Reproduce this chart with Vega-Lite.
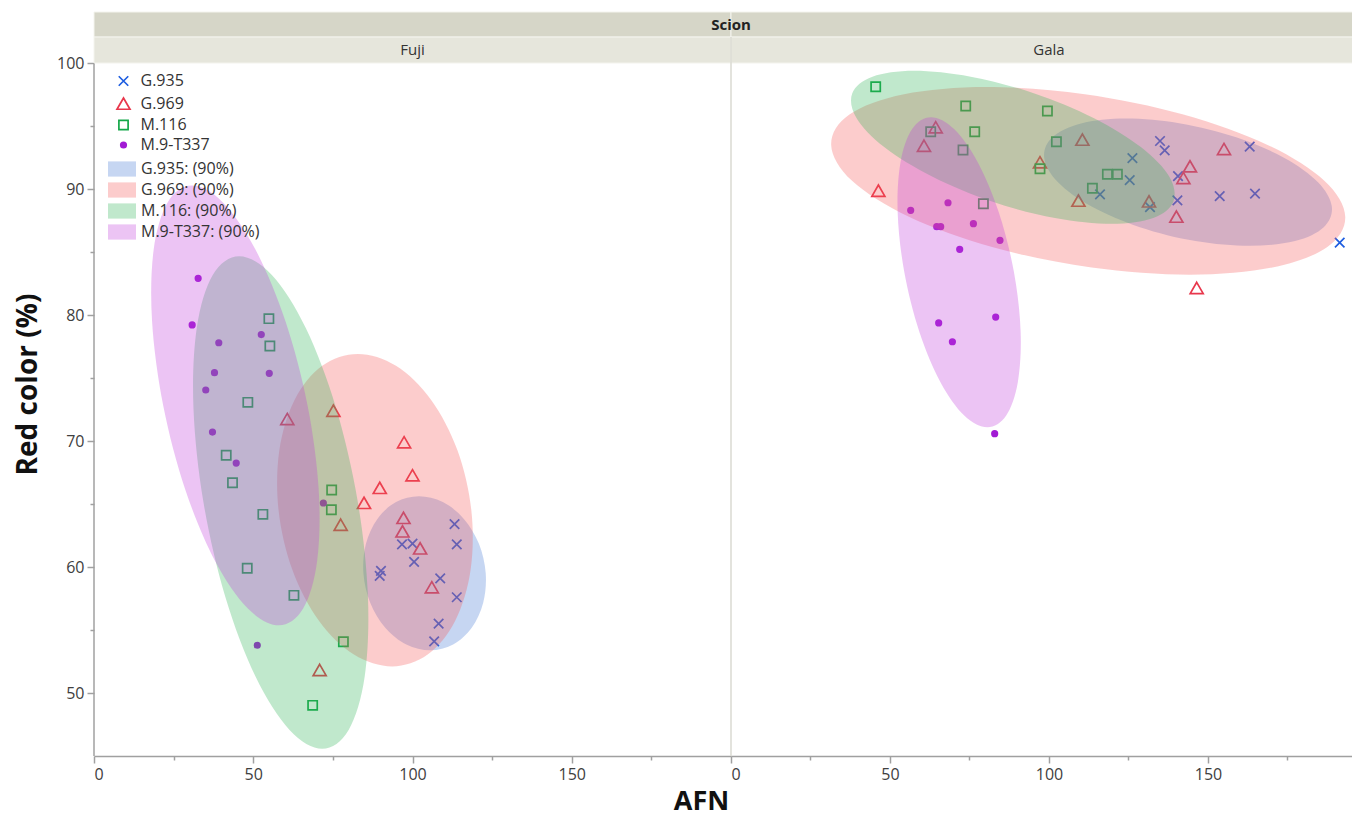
{
  "$schema": "https://vega.github.io/schema/vega-lite/v6.json",
  "padding": {"left": 14, "top": 11, "right": 0, "bottom": 3},
  "background": "white",
  "spacing": 0,
  "bounds": "flush",
  "resolve": {"scale": {"x": "independent", "y": "independent"}},
  "config": {
    "view": {"stroke": null},
    "font": "Open Sans",
    "axis": {"labelFont": "Open Sans", "labelFontSize": 16, "labelColor": "#404040", "tickColor": "#a0a0a0", "domainColor": "#a0a0a0", "domainWidth": 1.5, "tickWidth": 1.5, "labelPadding": 3, "titleFont": "Open Sans", "titleFontWeight": "bold", "titleFontSize": 28, "titleColor": "#111111", "grid": false},
    "legend": {"labelFont": "Open Sans", "labelFontSize": 16, "labelColor": "#333333"}
  },
  "datasets": {
    "points": [
      {"Scion":"Fuji","Rootstock":"G.935","AFN":113.2,"Red":63.4},
      {"Scion":"Fuji","Rootstock":"G.935","AFN":113.9,"Red":61.8},
      {"Scion":"Fuji","Rootstock":"G.935","AFN":96.7,"Red":61.8},
      {"Scion":"Fuji","Rootstock":"G.935","AFN":100.0,"Red":61.85},
      {"Scion":"Fuji","Rootstock":"G.935","AFN":100.5,"Red":60.4},
      {"Scion":"Fuji","Rootstock":"G.935","AFN":90.1,"Red":59.7},
      {"Scion":"Fuji","Rootstock":"G.935","AFN":89.7,"Red":59.3},
      {"Scion":"Fuji","Rootstock":"G.935","AFN":108.7,"Red":59.1},
      {"Scion":"Fuji","Rootstock":"G.935","AFN":113.9,"Red":57.6},
      {"Scion":"Fuji","Rootstock":"G.935","AFN":108.2,"Red":55.5},
      {"Scion":"Fuji","Rootstock":"G.935","AFN":106.8,"Red":54.1},
      {"Scion":"Fuji","Rootstock":"G.969","AFN":60.69,"Red":71.72},
      {"Scion":"Fuji","Rootstock":"G.969","AFN":75.16,"Red":72.38},
      {"Scion":"Fuji","Rootstock":"G.969","AFN":97.36,"Red":69.87},
      {"Scion":"Fuji","Rootstock":"G.969","AFN":100.0,"Red":67.25},
      {"Scion":"Fuji","Rootstock":"G.969","AFN":89.72,"Red":66.25},
      {"Scion":"Fuji","Rootstock":"G.969","AFN":84.78,"Red":65.06},
      {"Scion":"Fuji","Rootstock":"G.969","AFN":77.45,"Red":63.33},
      {"Scion":"Fuji","Rootstock":"G.969","AFN":97.17,"Red":63.87},
      {"Scion":"Fuji","Rootstock":"G.969","AFN":96.86,"Red":62.8},
      {"Scion":"Fuji","Rootstock":"G.969","AFN":102.39,"Red":61.45},
      {"Scion":"Fuji","Rootstock":"G.969","AFN":106.07,"Red":58.36},
      {"Scion":"Fuji","Rootstock":"G.969","AFN":70.85,"Red":51.8},
      {"Scion":"Fuji","Rootstock":"M.116","AFN":54.91,"Red":79.71},
      {"Scion":"Fuji","Rootstock":"M.116","AFN":55.22,"Red":77.54},
      {"Scion":"Fuji","Rootstock":"M.116","AFN":48.30,"Red":73.07},
      {"Scion":"Fuji","Rootstock":"M.116","AFN":41.51,"Red":68.87},
      {"Scion":"Fuji","Rootstock":"M.116","AFN":43.49,"Red":66.69},
      {"Scion":"Fuji","Rootstock":"M.116","AFN":53.02,"Red":64.18},
      {"Scion":"Fuji","Rootstock":"M.116","AFN":74.62,"Red":66.11},
      {"Scion":"Fuji","Rootstock":"M.116","AFN":74.53,"Red":64.55},
      {"Scion":"Fuji","Rootstock":"M.116","AFN":48.11,"Red":59.90},
      {"Scion":"Fuji","Rootstock":"M.116","AFN":62.77,"Red":57.75},
      {"Scion":"Fuji","Rootstock":"M.116","AFN":78.30,"Red":54.07},
      {"Scion":"Fuji","Rootstock":"M.116","AFN":68.65,"Red":49.02},
      {"Scion":"Fuji","Rootstock":"M.9-T337","AFN":32.70,"Red":82.91},
      {"Scion":"Fuji","Rootstock":"M.9-T337","AFN":30.82,"Red":79.21},
      {"Scion":"Fuji","Rootstock":"M.9-T337","AFN":39.18,"Red":77.80},
      {"Scion":"Fuji","Rootstock":"M.9-T337","AFN":52.52,"Red":78.45},
      {"Scion":"Fuji","Rootstock":"M.9-T337","AFN":37.83,"Red":75.42},
      {"Scion":"Fuji","Rootstock":"M.9-T337","AFN":55.03,"Red":75.37},
      {"Scion":"Fuji","Rootstock":"M.9-T337","AFN":35.09,"Red":74.05},
      {"Scion":"Fuji","Rootstock":"M.9-T337","AFN":37.20,"Red":70.71},
      {"Scion":"Fuji","Rootstock":"M.9-T337","AFN":44.65,"Red":68.25},
      {"Scion":"Fuji","Rootstock":"M.9-T337","AFN":72.01,"Red":65.08},
      {"Scion":"Fuji","Rootstock":"M.9-T337","AFN":51.26,"Red":53.79},
      {"Scion":"Gala","Rootstock":"G.935","AFN":134.91,"Red":93.81},
      {"Scion":"Gala","Rootstock":"G.935","AFN":136.38,"Red":93.07},
      {"Scion":"Gala","Rootstock":"G.935","AFN":126.23,"Red":92.46},
      {"Scion":"Gala","Rootstock":"G.935","AFN":163.11,"Red":93.36},
      {"Scion":"Gala","Rootstock":"G.935","AFN":125.38,"Red":90.71},
      {"Scion":"Gala","Rootstock":"G.935","AFN":140.57,"Red":91.03},
      {"Scion":"Gala","Rootstock":"G.935","AFN":116.04,"Red":89.58},
      {"Scion":"Gala","Rootstock":"G.935","AFN":131.76,"Red":88.57},
      {"Scion":"Gala","Rootstock":"G.935","AFN":140.38,"Red":89.10},
      {"Scion":"Gala","Rootstock":"G.935","AFN":153.68,"Red":89.44},
      {"Scion":"Gala","Rootstock":"G.935","AFN":164.78,"Red":89.63},
      {"Scion":"Gala","Rootstock":"G.935","AFN":191.42,"Red":85.74},
      {"Scion":"Gala","Rootstock":"G.969","AFN":64.37,"Red":94.87},
      {"Scion":"Gala","Rootstock":"G.969","AFN":60.69,"Red":93.41},
      {"Scion":"Gala","Rootstock":"G.969","AFN":46.35,"Red":89.84},
      {"Scion":"Gala","Rootstock":"G.969","AFN":110.50,"Red":93.89},
      {"Scion":"Gala","Rootstock":"G.969","AFN":97.17,"Red":92.09},
      {"Scion":"Gala","Rootstock":"G.969","AFN":109.25,"Red":89.05},
      {"Scion":"Gala","Rootstock":"G.969","AFN":155.03,"Red":93.15},
      {"Scion":"Gala","Rootstock":"G.969","AFN":144.34,"Red":91.77},
      {"Scion":"Gala","Rootstock":"G.969","AFN":142.26,"Red":90.85},
      {"Scion":"Gala","Rootstock":"G.969","AFN":131.45,"Red":88.99},
      {"Scion":"Gala","Rootstock":"G.969","AFN":140.06,"Red":87.78},
      {"Scion":"Gala","Rootstock":"G.969","AFN":146.45,"Red":82.12},
      {"Scion":"Gala","Rootstock":"M.116","AFN":45.50,"Red":98.12},
      {"Scion":"Gala","Rootstock":"M.116","AFN":73.81,"Red":96.59},
      {"Scion":"Gala","Rootstock":"M.116","AFN":99.50,"Red":96.19},
      {"Scion":"Gala","Rootstock":"M.116","AFN":76.64,"Red":94.55},
      {"Scion":"Gala","Rootstock":"M.116","AFN":62.80,"Red":94.55},
      {"Scion":"Gala","Rootstock":"M.116","AFN":72.96,"Red":93.10},
      {"Scion":"Gala","Rootstock":"M.116","AFN":102.33,"Red":93.75},
      {"Scion":"Gala","Rootstock":"M.116","AFN":97.17,"Red":91.61},
      {"Scion":"Gala","Rootstock":"M.116","AFN":118.36,"Red":91.17},
      {"Scion":"Gala","Rootstock":"M.116","AFN":121.51,"Red":91.17},
      {"Scion":"Gala","Rootstock":"M.116","AFN":113.65,"Red":90.06},
      {"Scion":"Gala","Rootstock":"M.116","AFN":79.37,"Red":88.83},
      {"Scion":"Gala","Rootstock":"M.9-T337","AFN":56.51,"Red":88.31},
      {"Scion":"Gala","Rootstock":"M.9-T337","AFN":68.24,"Red":88.91},
      {"Scion":"Gala","Rootstock":"M.9-T337","AFN":64.69,"Red":87.01},
      {"Scion":"Gala","Rootstock":"M.9-T337","AFN":65.94,"Red":87.01},
      {"Scion":"Gala","Rootstock":"M.9-T337","AFN":76.23,"Red":87.25},
      {"Scion":"Gala","Rootstock":"M.9-T337","AFN":84.59,"Red":85.93},
      {"Scion":"Gala","Rootstock":"M.9-T337","AFN":71.92,"Red":85.21},
      {"Scion":"Gala","Rootstock":"M.9-T337","AFN":83.24,"Red":79.84},
      {"Scion":"Gala","Rootstock":"M.9-T337","AFN":65.31,"Red":79.37},
      {"Scion":"Gala","Rootstock":"M.9-T337","AFN":69.62,"Red":77.88},
      {"Scion":"Gala","Rootstock":"M.9-T337","AFN":82.92,"Red":70.58}
    ],
    "ellipses": [
      {"Scion":"Fuji","Ellipse":"G.935: (90%)","i":0,"AFN":122.99,"Red":59.50},
      {"Scion":"Fuji","Ellipse":"G.935: (90%)","i":1,"AFN":120.86,"Red":61.84},
      {"Scion":"Fuji","Ellipse":"G.935: (90%)","i":2,"AFN":116.13,"Red":63.82},
      {"Scion":"Fuji","Ellipse":"G.935: (90%)","i":3,"AFN":109.52,"Red":65.15},
      {"Scion":"Fuji","Ellipse":"G.935: (90%)","i":4,"AFN":102.04,"Red":65.61},
      {"Scion":"Fuji","Ellipse":"G.935: (90%)","i":5,"AFN":94.83,"Red":65.15},
      {"Scion":"Fuji","Ellipse":"G.935: (90%)","i":6,"AFN":88.98,"Red":63.82},
      {"Scion":"Fuji","Ellipse":"G.935: (90%)","i":7,"AFN":85.38,"Red":61.84},
      {"Scion":"Fuji","Ellipse":"G.935: (90%)","i":8,"AFN":84.59,"Red":59.50},
      {"Scion":"Fuji","Ellipse":"G.935: (90%)","i":9,"AFN":86.72,"Red":57.16},
      {"Scion":"Fuji","Ellipse":"G.935: (90%)","i":10,"AFN":91.45,"Red":55.18},
      {"Scion":"Fuji","Ellipse":"G.935: (90%)","i":11,"AFN":98.06,"Red":53.85},
      {"Scion":"Fuji","Ellipse":"G.935: (90%)","i":12,"AFN":105.54,"Red":53.39},
      {"Scion":"Fuji","Ellipse":"G.935: (90%)","i":13,"AFN":112.75,"Red":53.85},
      {"Scion":"Fuji","Ellipse":"G.935: (90%)","i":14,"AFN":118.60,"Red":55.18},
      {"Scion":"Fuji","Ellipse":"G.935: (90%)","i":15,"AFN":122.20,"Red":57.16},
      {"Scion":"Fuji","Ellipse":"G.969: (90%)","i":0,"AFN":118.47,"Red":64.51},
      {"Scion":"Fuji","Ellipse":"G.969: (90%)","i":1,"AFN":114.11,"Red":69.26},
      {"Scion":"Fuji","Ellipse":"G.969: (90%)","i":2,"AFN":105.80,"Red":73.28},
      {"Scion":"Fuji","Ellipse":"G.969: (90%)","i":3,"AFN":94.82,"Red":75.97},
      {"Scion":"Fuji","Ellipse":"G.969: (90%)","i":4,"AFN":82.83,"Red":76.91},
      {"Scion":"Fuji","Ellipse":"G.969: (90%)","i":5,"AFN":71.66,"Red":75.97},
      {"Scion":"Fuji","Ellipse":"G.969: (90%)","i":6,"AFN":63.01,"Red":73.28},
      {"Scion":"Fuji","Ellipse":"G.969: (90%)","i":7,"AFN":58.19,"Red":69.26},
      {"Scion":"Fuji","Ellipse":"G.969: (90%)","i":8,"AFN":57.95,"Red":64.51},
      {"Scion":"Fuji","Ellipse":"G.969: (90%)","i":9,"AFN":62.31,"Red":59.77},
      {"Scion":"Fuji","Ellipse":"G.969: (90%)","i":10,"AFN":70.62,"Red":55.74},
      {"Scion":"Fuji","Ellipse":"G.969: (90%)","i":11,"AFN":81.60,"Red":53.05},
      {"Scion":"Fuji","Ellipse":"G.969: (90%)","i":12,"AFN":93.59,"Red":52.11},
      {"Scion":"Fuji","Ellipse":"G.969: (90%)","i":13,"AFN":104.76,"Red":53.05},
      {"Scion":"Fuji","Ellipse":"G.969: (90%)","i":14,"AFN":113.41,"Red":55.74},
      {"Scion":"Fuji","Ellipse":"G.969: (90%)","i":15,"AFN":118.23,"Red":59.77},
      {"Scion":"Fuji","Ellipse":"M.116: (90%)","i":0,"AFN":82.86,"Red":65.12},
      {"Scion":"Fuji","Ellipse":"M.116: (90%)","i":1,"AFN":76.02,"Red":72.60},
      {"Scion":"Fuji","Ellipse":"M.116: (90%)","i":2,"AFN":66.53,"Red":78.94},
      {"Scion":"Fuji","Ellipse":"M.116: (90%)","i":3,"AFN":55.84,"Red":83.17},
      {"Scion":"Fuji","Ellipse":"M.116: (90%)","i":4,"AFN":45.57,"Red":84.66},
      {"Scion":"Fuji","Ellipse":"M.116: (90%)","i":5,"AFN":37.29,"Red":83.17},
      {"Scion":"Fuji","Ellipse":"M.116: (90%)","i":6,"AFN":32.25,"Red":78.94},
      {"Scion":"Fuji","Ellipse":"M.116: (90%)","i":7,"AFN":31.23,"Red":72.60},
      {"Scion":"Fuji","Ellipse":"M.116: (90%)","i":8,"AFN":34.38,"Red":65.12},
      {"Scion":"Fuji","Ellipse":"M.116: (90%)","i":9,"AFN":41.22,"Red":57.64},
      {"Scion":"Fuji","Ellipse":"M.116: (90%)","i":10,"AFN":50.71,"Red":51.30},
      {"Scion":"Fuji","Ellipse":"M.116: (90%)","i":11,"AFN":61.40,"Red":47.07},
      {"Scion":"Fuji","Ellipse":"M.116: (90%)","i":12,"AFN":71.67,"Red":45.58},
      {"Scion":"Fuji","Ellipse":"M.116: (90%)","i":13,"AFN":79.95,"Red":47.07},
      {"Scion":"Fuji","Ellipse":"M.116: (90%)","i":14,"AFN":84.99,"Red":51.30},
      {"Scion":"Fuji","Ellipse":"M.116: (90%)","i":15,"AFN":86.01,"Red":57.64},
      {"Scion":"Fuji","Ellipse":"M.9-T337: (90%)","i":0,"AFN":67.05,"Red":72.82},
      {"Scion":"Fuji","Ellipse":"M.9-T337: (90%)","i":1,"AFN":60.11,"Red":79.50},
      {"Scion":"Fuji","Ellipse":"M.9-T337: (90%)","i":2,"AFN":50.77,"Red":85.16},
      {"Scion":"Fuji","Ellipse":"M.9-T337: (90%)","i":3,"AFN":40.46,"Red":88.94},
      {"Scion":"Fuji","Ellipse":"M.9-T337: (90%)","i":4,"AFN":30.75,"Red":90.27},
      {"Scion":"Fuji","Ellipse":"M.9-T337: (90%)","i":5,"AFN":23.12,"Red":88.94},
      {"Scion":"Fuji","Ellipse":"M.9-T337: (90%)","i":6,"AFN":18.72,"Red":85.16},
      {"Scion":"Fuji","Ellipse":"M.9-T337: (90%)","i":7,"AFN":18.23,"Red":79.50},
      {"Scion":"Fuji","Ellipse":"M.9-T337: (90%)","i":8,"AFN":21.73,"Red":72.82},
      {"Scion":"Fuji","Ellipse":"M.9-T337: (90%)","i":9,"AFN":28.67,"Red":66.14},
      {"Scion":"Fuji","Ellipse":"M.9-T337: (90%)","i":10,"AFN":38.01,"Red":60.48},
      {"Scion":"Fuji","Ellipse":"M.9-T337: (90%)","i":11,"AFN":48.32,"Red":56.70},
      {"Scion":"Fuji","Ellipse":"M.9-T337: (90%)","i":12,"AFN":58.03,"Red":55.37},
      {"Scion":"Fuji","Ellipse":"M.9-T337: (90%)","i":13,"AFN":65.66,"Red":56.70},
      {"Scion":"Fuji","Ellipse":"M.9-T337: (90%)","i":14,"AFN":70.06,"Red":60.48},
      {"Scion":"Fuji","Ellipse":"M.9-T337: (90%)","i":15,"AFN":70.55,"Red":66.14},
      {"Scion":"Gala","Ellipse":"G.935: (90%)","i":0,"AFN":184.60,"Red":90.54},
      {"Scion":"Gala","Ellipse":"G.935: (90%)","i":1,"AFN":174.03,"Red":92.47},
      {"Scion":"Gala","Ellipse":"G.935: (90%)","i":2,"AFN":158.85,"Red":94.11},
      {"Scion":"Gala","Ellipse":"G.935: (90%)","i":3,"AFN":141.37,"Red":95.21},
      {"Scion":"Gala","Ellipse":"G.935: (90%)","i":4,"AFN":124.24,"Red":95.59},
      {"Scion":"Gala","Ellipse":"G.935: (90%)","i":5,"AFN":110.08,"Red":95.21},
      {"Scion":"Gala","Ellipse":"G.935: (90%)","i":6,"AFN":101.04,"Red":94.11},
      {"Scion":"Gala","Ellipse":"G.935: (90%)","i":7,"AFN":98.50,"Red":92.47},
      {"Scion":"Gala","Ellipse":"G.935: (90%)","i":8,"AFN":102.84,"Red":90.54},
      {"Scion":"Gala","Ellipse":"G.935: (90%)","i":9,"AFN":113.41,"Red":88.61},
      {"Scion":"Gala","Ellipse":"G.935: (90%)","i":10,"AFN":128.59,"Red":86.97},
      {"Scion":"Gala","Ellipse":"G.935: (90%)","i":11,"AFN":146.07,"Red":85.87},
      {"Scion":"Gala","Ellipse":"G.935: (90%)","i":12,"AFN":163.20,"Red":85.49},
      {"Scion":"Gala","Ellipse":"G.935: (90%)","i":13,"AFN":177.36,"Red":85.87},
      {"Scion":"Gala","Ellipse":"G.935: (90%)","i":14,"AFN":186.40,"Red":86.97},
      {"Scion":"Gala","Ellipse":"G.935: (90%)","i":15,"AFN":188.94,"Red":88.61},
      {"Scion":"Gala","Ellipse":"G.969: (90%)","i":0,"AFN":186.59,"Red":90.65},
      {"Scion":"Gala","Ellipse":"G.969: (90%)","i":1,"AFN":168.72,"Red":93.50},
      {"Scion":"Gala","Ellipse":"G.969: (90%)","i":2,"AFN":142.26,"Red":95.92},
      {"Scion":"Gala","Ellipse":"G.969: (90%)","i":3,"AFN":111.25,"Red":97.53},
      {"Scion":"Gala","Ellipse":"G.969: (90%)","i":4,"AFN":80.40,"Red":98.10},
      {"Scion":"Gala","Ellipse":"G.969: (90%)","i":5,"AFN":54.41,"Red":97.53},
      {"Scion":"Gala","Ellipse":"G.969: (90%)","i":6,"AFN":37.24,"Red":95.92},
      {"Scion":"Gala","Ellipse":"G.969: (90%)","i":7,"AFN":31.50,"Red":93.50},
      {"Scion":"Gala","Ellipse":"G.969: (90%)","i":8,"AFN":38.07,"Red":90.65},
      {"Scion":"Gala","Ellipse":"G.969: (90%)","i":9,"AFN":55.94,"Red":87.80},
      {"Scion":"Gala","Ellipse":"G.969: (90%)","i":10,"AFN":82.40,"Red":85.38},
      {"Scion":"Gala","Ellipse":"G.969: (90%)","i":11,"AFN":113.41,"Red":83.77},
      {"Scion":"Gala","Ellipse":"G.969: (90%)","i":12,"AFN":144.26,"Red":83.20},
      {"Scion":"Gala","Ellipse":"G.969: (90%)","i":13,"AFN":170.25,"Red":83.77},
      {"Scion":"Gala","Ellipse":"G.969: (90%)","i":14,"AFN":187.42,"Red":85.38},
      {"Scion":"Gala","Ellipse":"G.969: (90%)","i":15,"AFN":193.16,"Red":87.80},
      {"Scion":"Gala","Ellipse":"M.116: (90%)","i":0,"AFN":128.98,"Red":93.31},
      {"Scion":"Gala","Ellipse":"M.116: (90%)","i":1,"AFN":114.02,"Red":95.64},
      {"Scion":"Gala","Ellipse":"M.116: (90%)","i":2,"AFN":95.20,"Red":97.61},
      {"Scion":"Gala","Ellipse":"M.116: (90%)","i":3,"AFN":75.38,"Red":98.92},
      {"Scion":"Gala","Ellipse":"M.116: (90%)","i":4,"AFN":57.57,"Red":99.39},
      {"Scion":"Gala","Ellipse":"M.116: (90%)","i":5,"AFN":44.49,"Red":98.92},
      {"Scion":"Gala","Ellipse":"M.116: (90%)","i":6,"AFN":38.14,"Red":97.61},
      {"Scion":"Gala","Ellipse":"M.116: (90%)","i":7,"AFN":39.46,"Red":95.64},
      {"Scion":"Gala","Ellipse":"M.116: (90%)","i":8,"AFN":48.28,"Red":93.31},
      {"Scion":"Gala","Ellipse":"M.116: (90%)","i":9,"AFN":63.24,"Red":90.99},
      {"Scion":"Gala","Ellipse":"M.116: (90%)","i":10,"AFN":82.06,"Red":89.01},
      {"Scion":"Gala","Ellipse":"M.116: (90%)","i":11,"AFN":101.88,"Red":87.70},
      {"Scion":"Gala","Ellipse":"M.116: (90%)","i":12,"AFN":119.69,"Red":87.24},
      {"Scion":"Gala","Ellipse":"M.116: (90%)","i":13,"AFN":132.77,"Red":87.70},
      {"Scion":"Gala","Ellipse":"M.116: (90%)","i":14,"AFN":139.12,"Red":89.01},
      {"Scion":"Gala","Ellipse":"M.116: (90%)","i":15,"AFN":137.80,"Red":90.99},
      {"Scion":"Gala","Ellipse":"M.9-T337: (90%)","i":0,"AFN":88.99,"Red":83.39},
      {"Scion":"Gala","Ellipse":"M.9-T337: (90%)","i":1,"AFN":84.28,"Red":88.10},
      {"Scion":"Gala","Ellipse":"M.9-T337: (90%)","i":2,"AFN":77.67,"Red":92.09},
      {"Scion":"Gala","Ellipse":"M.9-T337: (90%)","i":3,"AFN":70.15,"Red":94.76},
      {"Scion":"Gala","Ellipse":"M.9-T337: (90%)","i":4,"AFN":62.88,"Red":95.70},
      {"Scion":"Gala","Ellipse":"M.9-T337: (90%)","i":5,"AFN":56.96,"Red":94.76},
      {"Scion":"Gala","Ellipse":"M.9-T337: (90%)","i":6,"AFN":53.29,"Red":92.09},
      {"Scion":"Gala","Ellipse":"M.9-T337: (90%)","i":7,"AFN":52.42,"Red":88.10},
      {"Scion":"Gala","Ellipse":"M.9-T337: (90%)","i":8,"AFN":54.51,"Red":83.39},
      {"Scion":"Gala","Ellipse":"M.9-T337: (90%)","i":9,"AFN":59.22,"Red":78.68},
      {"Scion":"Gala","Ellipse":"M.9-T337: (90%)","i":10,"AFN":65.83,"Red":74.69},
      {"Scion":"Gala","Ellipse":"M.9-T337: (90%)","i":11,"AFN":73.35,"Red":72.02},
      {"Scion":"Gala","Ellipse":"M.9-T337: (90%)","i":12,"AFN":80.62,"Red":71.09},
      {"Scion":"Gala","Ellipse":"M.9-T337: (90%)","i":13,"AFN":86.54,"Red":72.02},
      {"Scion":"Gala","Ellipse":"M.9-T337: (90%)","i":14,"AFN":90.21,"Red":74.69},
      {"Scion":"Gala","Ellipse":"M.9-T337: (90%)","i":15,"AFN":91.08,"Red":78.68}
    ]
  },
  "hconcat": [
    {
      "width": 637,
      "height": 744,
      "layer": [
        {
          "data": {"name": "points"},
          "transform": [{"filter": "datum.Scion === 'Fuji'"}],
          "mark": {"type": "point", "strokeWidth": 1.7, "opacity": 1, "size": 100},
          "encoding": {
            "x": {"field": "AFN", "type": "quantitative", "scale": {"domain": [0, 200], "nice": false, "zero": false},
                  "axis": {"values": [0, 25, 50, 75, 100, 125, 150, 175], "labelExpr": "datum.value % 50 === 0 ? datum.label : ''",
                           "tickSize": {"condition": {"test": "datum.value % 50 === 0", "value": 7}, "value": 4},
                           "title": "AFN", "titleFontSize": 27, "titleX": 607, "titleY": 53, "titleBaseline": "alphabetic", "titleAlign": "center"}},
            "y": {"field": "Red", "type": "quantitative", "scale": {"domain": [45, 104.05], "nice": false, "zero": false},
                  "axis": {"values": [50, 55, 60, 65, 70, 75, 80, 85, 90, 95, 100], "labelExpr": "datum.value % 10 === 0 ? datum.label : ''",
                           "tickSize": {"condition": {"test": "datum.value % 10 === 0", "value": 7}, "value": 4},
                           "domain": false, "title": "Red color (%)", "titlePadding": 14}},
            "stroke": {"field": "Rootstock", "type": "nominal", "scale": {"domain": ["G.935", "G.969", "M.116", "M.9-T337"], "range": ["#1f5ee0", "#e8374c", "#15a84a", "#a21bd4"]},
                       "legend": {"title": null, "orient": "none", "legendX": 21.5, "legendY": 61, "rowPadding": 4, "labelOffset": 9, "symbolStrokeWidth": 1.7, "symbolSize": 100}},
            "fill": {"field": "Rootstock", "type": "nominal", "scale": {"domain": ["G.935", "G.969", "M.116", "M.9-T337"], "range": ["transparent", "transparent", "transparent", "#a21bd4"]},
                     "legend": {"title": null, "orient": "none", "legendX": 21.5, "legendY": 61, "rowPadding": 4, "labelOffset": 9, "symbolStrokeWidth": 1.7, "symbolSize": 100}},
            "shape": {"field": "Rootstock", "type": "nominal", "scale": {"domain": ["G.935", "G.969", "M.116", "M.9-T337"], "range": ["M-0.95,-0.95L0.95,0.95M-0.95,0.95L0.95,-0.95", "M0,-1.2L1.3,1.05L-1.3,1.05Z", "M-0.92,-0.92H0.92V0.92H-0.92Z", "M-0.55,0A0.55,0.55,0,1,1,0.55,0A0.55,0.55,0,1,1,-0.55,0Z"]},
                      "legend": {"title": null, "orient": "none", "legendX": 21.5, "legendY": 61, "rowPadding": 4, "labelOffset": 9, "symbolStrokeWidth": 1.7, "symbolSize": 100}}
          }
        },
        {
          "data": {"name": "ellipses"},
          "transform": [{"filter": "datum.Scion === 'Fuji'"}],
          "mark": {"type": "line", "filled": true, "interpolate": "cardinal-closed", "strokeWidth": 0},
          "encoding": {
            "x": {"field": "AFN", "type": "quantitative"},
            "y": {"field": "Red", "type": "quantitative"},
            "order": {"field": "i", "type": "quantitative"},
            "color": {"field": "Ellipse", "type": "nominal",
                      "scale": {"domain": ["G.935: (90%)", "G.969: (90%)", "M.116: (90%)", "M.9-T337: (90%)"], "range": ["rgba(65,118,212,0.3)", "rgba(245,85,85,0.3)", "rgba(45,178,85,0.3)", "rgba(192,58,218,0.3)"]},
                      "legend": {"title": null, "orient": "none", "legendX": 20, "legendY": 149, "symbolType": "M-1.75,-0.95H1.75V0.95H-1.75Z", "symbolSize": 256, "labelOffset": 11, "rowPadding": 5, "symbolStrokeWidth": 0}}
          }
        },
        {
          "data": {"values": [{}]},
          "mark": {"type": "rule", "color": "#a0a0a0", "strokeWidth": 1.5},
          "encoding": {"x": {"datum": 0, "type": "quantitative"}, "y": {"datum": 45, "type": "quantitative"}, "y2": {"datum": 100}}
        },
        {
          "data": {"values": [{}]},
          "mark": {"type": "rect", "color": "#d6d6c8", "stroke": "#f4f4ee", "strokeWidth": 1},
          "encoding": {"x": {"datum": 0, "type": "quantitative"}, "x2": {"datum": 200}, "y": {"datum": 102.06, "type": "quantitative"}, "y2": {"datum": 104.05}}
        },
        {
          "data": {"values": [{}]},
          "mark": {"type": "rect", "color": "#e6e6dc", "stroke": "#f4f4ee", "strokeWidth": 1},
          "encoding": {"x": {"datum": 0, "type": "quantitative"}, "x2": {"datum": 200}, "y": {"datum": 100, "type": "quantitative"}, "y2": {"datum": 102.06}}
        },
        {
          "data": {"values": [{"label": "Fuji"}]},
          "mark": {"type": "text", "font": "Open Sans", "fontSize": 15, "color": "#333333", "align": "center", "baseline": "middle"},
          "encoding": {"text": {"field": "label"}, "x": {"datum": 100, "type": "quantitative"}, "y": {"datum": 101.03, "type": "quantitative"}}
        }
      ]
    },
    {
      "width": 622,
      "height": 744,
      "layer": [
        {
          "data": {"name": "points"},
          "transform": [{"filter": "datum.Scion === 'Gala'"}],
          "mark": {"type": "point", "strokeWidth": 1.7, "opacity": 1, "size": 100},
          "encoding": {
            "x": {"field": "AFN", "type": "quantitative", "scale": {"domain": [0, 195.6], "nice": false, "zero": false},
                  "axis": {"values": [0, 25, 50, 75, 100, 125, 150, 175], "labelExpr": "datum.value % 50 === 0 ? datum.label : ''",
                           "tickSize": {"condition": {"test": "datum.value % 50 === 0", "value": 7}, "value": 4}, "title": null}},
            "y": {"field": "Red", "type": "quantitative", "scale": {"domain": [45, 104.05], "nice": false, "zero": false}, "axis": null},
            "stroke": {"field": "Rootstock", "type": "nominal", "scale": {"domain": ["G.935", "G.969", "M.116", "M.9-T337"], "range": ["#1f5ee0", "#e8374c", "#15a84a", "#a21bd4"]},
                       "legend": {"title": null, "orient": "none", "legendX": 21.5, "legendY": 61, "rowPadding": 4, "labelOffset": 9, "symbolStrokeWidth": 1.7, "symbolSize": 100}},
            "fill": {"field": "Rootstock", "type": "nominal", "scale": {"domain": ["G.935", "G.969", "M.116", "M.9-T337"], "range": ["transparent", "transparent", "transparent", "#a21bd4"]},
                     "legend": {"title": null, "orient": "none", "legendX": 21.5, "legendY": 61, "rowPadding": 4, "labelOffset": 9, "symbolStrokeWidth": 1.7, "symbolSize": 100}},
            "shape": {"field": "Rootstock", "type": "nominal", "scale": {"domain": ["G.935", "G.969", "M.116", "M.9-T337"], "range": ["M-0.95,-0.95L0.95,0.95M-0.95,0.95L0.95,-0.95", "M0,-1.2L1.3,1.05L-1.3,1.05Z", "M-0.92,-0.92H0.92V0.92H-0.92Z", "M-0.55,0A0.55,0.55,0,1,1,0.55,0A0.55,0.55,0,1,1,-0.55,0Z"]},
                      "legend": {"title": null, "orient": "none", "legendX": 21.5, "legendY": 61, "rowPadding": 4, "labelOffset": 9, "symbolStrokeWidth": 1.7, "symbolSize": 100}}
          }
        },
        {
          "data": {"name": "ellipses"},
          "transform": [{"filter": "datum.Scion === 'Gala'"}],
          "mark": {"type": "line", "filled": true, "interpolate": "cardinal-closed", "strokeWidth": 0},
          "encoding": {
            "x": {"field": "AFN", "type": "quantitative"},
            "y": {"field": "Red", "type": "quantitative"},
            "order": {"field": "i", "type": "quantitative"},
            "color": {"field": "Ellipse", "type": "nominal",
                      "scale": {"domain": ["G.935: (90%)", "G.969: (90%)", "M.116: (90%)", "M.9-T337: (90%)"], "range": ["rgba(65,118,212,0.3)", "rgba(245,85,85,0.3)", "rgba(45,178,85,0.3)", "rgba(192,58,218,0.3)"]},
                      "legend": {"title": null, "orient": "none", "legendX": 20, "legendY": 149, "symbolType": "M-1.75,-0.95H1.75V0.95H-1.75Z", "symbolSize": 256, "labelOffset": 11, "rowPadding": 5, "symbolStrokeWidth": 0}}
          }
        },
        {
          "data": {"values": [{}]},
          "mark": {"type": "rect", "color": "#d6d6c8", "stroke": "#f4f4ee", "strokeWidth": 1},
          "encoding": {"x": {"datum": 0, "type": "quantitative"}, "x2": {"datum": 195.6}, "y": {"datum": 102.06, "type": "quantitative"}, "y2": {"datum": 104.05}}
        },
        {
          "data": {"values": [{}]},
          "mark": {"type": "rect", "color": "#e6e6dc", "stroke": "#f4f4ee", "strokeWidth": 1},
          "encoding": {"x": {"datum": 0, "type": "quantitative"}, "x2": {"datum": 195.6}, "y": {"datum": 100, "type": "quantitative"}, "y2": {"datum": 102.06}}
        },
        {
          "data": {"values": [{}]},
          "mark": {"type": "rule", "color": "#dadad2", "strokeWidth": 1.5},
          "encoding": {"x": {"datum": 0, "type": "quantitative"}, "y": {"datum": 45, "type": "quantitative"}, "y2": {"datum": 102.06}}
        },
        {
          "data": {"values": [{"label": "Gala"}]},
          "mark": {"type": "text", "font": "Open Sans", "fontSize": 15, "color": "#333333", "align": "center", "baseline": "middle"},
          "encoding": {"text": {"field": "label"}, "x": {"datum": 100, "type": "quantitative"}, "y": {"datum": 101.03, "type": "quantitative"}}
        },
        {
          "data": {"values": [{"label": "Scion"}]},
          "mark": {"type": "text", "font": "Open Sans", "fontSize": 15, "fontWeight": "bold", "color": "#222222", "align": "center", "baseline": "middle"},
          "encoding": {"text": {"field": "label"}, "x": {"datum": 0, "type": "quantitative"}, "y": {"datum": 103.05, "type": "quantitative"}}
        }
      ]
    }
  ]
}
